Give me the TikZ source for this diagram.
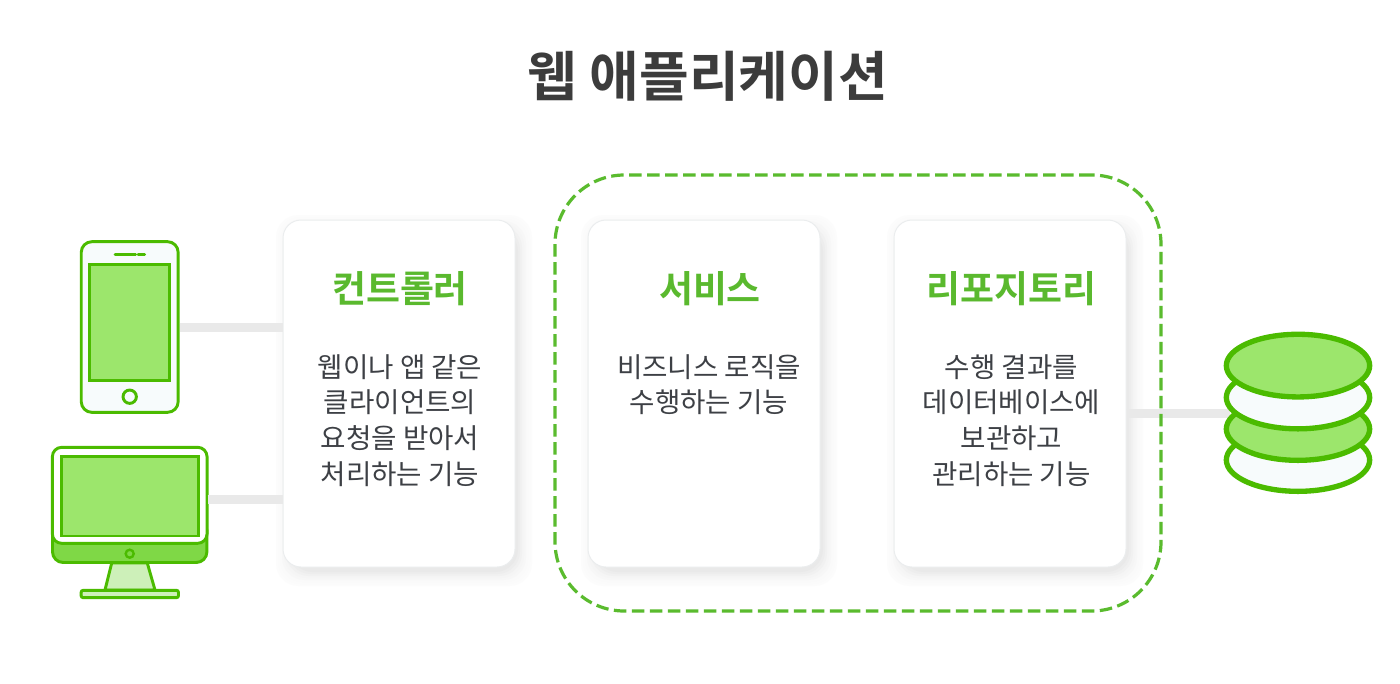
\documentclass[tikz,border=0pt]{standalone}
\usepackage{fontspec}
\setmainfont{Noto Sans CJK KR}
\newfontfamily\krbold{Noto Sans CJK KR Bold}
\definecolor{gline}{HTML}{4BBB00}
\definecolor{gfill}{HTML}{9CE66C}
\definecolor{gchin}{HTML}{7FD846}
\definecolor{gstand}{HTML}{CDF0B9}
\definecolor{paper}{HTML}{F7FBFC}
\definecolor{headc}{HTML}{5AB92E}
\definecolor{dashc}{HTML}{5ABB2E}
\definecolor{titlec}{HTML}{3C3C3C}
\definecolor{bodyc}{HTML}{3D4045}
\definecolor{linkc}{HTML}{E9E9E9}
\definecolor{cardedge}{HTML}{EBEDEE}
\usetikzlibrary{shapes.geometric}
\tikzset{
  x=0.75pt,y=-0.75pt,
  titletext/.style={font=\krbold\fontsize{40.5pt}{48pt}\selectfont,text=titlec,inner sep=0pt},
  headtext/.style={font=\krbold\fontsize{27.7pt}{32pt}\selectfont,text=headc,inner sep=0pt},
  bodytext/.style={font=\fontsize{20.7pt}{26.85pt}\selectfont,text=bodyc,inner sep=0pt,align=center,anchor=north},
  card/.style={draw=cardedge,line width=0.75pt,fill=white,rounded corners=13.5pt,minimum width=174pt,minimum height=260.25pt,inner sep=0pt},
  link/.style={draw=linkc,line width=6.75pt},
  icon/.style={draw=gline,line width=2.2pt,inner sep=0pt},
  dbdisc/.style={ellipse,draw=gline,line width=4pt,minimum width=107.5pt,minimum height=47pt,inner sep=0pt},
}
\begin{document}
\begin{tikzpicture}
\useasboundingbox (0,0) rectangle (1400,683);
\fill[white] (0,0) rectangle (1400,683);

\node[titletext] (title) at (708,76.5) {웹 애플리케이션};

% anchors for the grey connectors
\coordinate (deskrow) at (0,499);
\coordinate (dbrow) at (0,413.5);

% soft card shadows, built from graded solid layers
\foreach \cx in {283,588,894}{
  \foreach \s/\g in {12/1,10/1.5,8/2,6/3,4/4,2/5.5,0/7,-2/8.5}{
    \fill[black!\g!white,rounded corners=17pt] (\cx-\s+5,220-\s+7) rectangle (\cx+232+\s+5,567+\s+7);
  }
}

% phone
\node[icon,fill=paper,rounded corners=8pt,minimum width=72.7pt,minimum height=128pt] (phone) at (129.7,327) {};
\node[icon,fill=gfill,minimum width=59.7pt,minimum height=86.7pt] (phonescreen) at (129.5,322.5) {};
\node[icon,circle,fill=paper,minimum size=10pt] (phonebtn) at (129.7,396.7) {};
\coordinate (sp1) at (115,254.3);
\coordinate (sp2) at (135.7,254.3);
\coordinate (sp3) at (138,254.3);
\coordinate (sp4) at (144.7,254.3);
\draw[gline,line width=2pt,line cap=round] (sp1) -- (sp2) (sp3) -- (sp4);

% desktop
\path[fill=gchin,draw=gline,line width=2.2pt,rounded corners=8pt]
  (52.5,520) -- (52.5,562.5) -- (206.9,562.5) -- (206.9,520) -- cycle;
\node[icon,fill=white,rounded corners=7pt,minimum width=116pt,minimum height=72pt] (deskframe) at (129.7,495.3) {};
\node[icon,fill=gfill,minimum width=103pt,minimum height=59.7pt] (deskscreen) at (129.7,496.2) {};
\node[icon,circle,fill=gchin,line width=1.8pt,minimum size=6pt] (deskdot) at (129.7,553.7) {};
\path[fill=gstand,draw=gline,line width=2.2pt,line join=round]
  (111.7,563) -- (105,590) -- (155,590) -- (147.3,563) -- cycle;
\node[icon,fill=gstand,rounded corners=1.5pt,minimum width=73pt,minimum height=5.5pt] (deskbase) at (129.8,594) {};
\coordinate (deskedge) at (207.7,499);

% cards
\node[card] (ctrl) at (399,393.5) {};
\node[card] (svc) at (704,393.5) {};
\node[card] (repo) at (1010,393.5) {};

% connectors
\draw[link] (phone.east) -- (ctrl.west |- phone.east);
\draw[link] (deskedge) -- (ctrl.west |- deskrow);
\coordinate (dbend) at (1230,413.5);
\draw[link] (repo.east |- dbrow) -- (dbend);

% dashed boundary
\node[draw=dashc,line width=2.4pt,dash pattern=on 9.4pt off 4.1pt,rounded corners=52pt,minimum width=454.5pt,minimum height=327pt,inner sep=0pt] (group) at (858,393) {};

% card texts
\node[headtext] (h1) at (400,289) {컨트롤러};
\node[headtext] (h2) at (710,289) {서비스};
\node[headtext] (h3) at (1011.5,289) {리포지토리};

\node[bodytext] (b1) at (400,354) {웹이나 앱 같은\\클라이언트의\\요청을 받아서\\처리하는 기능};
\node[bodytext] (b2) at (709,354) {비즈니스 로직을\\수행하는 기능};
\node[bodytext] (b3) at (1011.5,354) {수행 결과를\\데이터베이스에\\보관하고\\관리하는 기능};

% database
\node[dbdisc,fill=paper] (db4) at (1298,460) {};
\node[dbdisc,fill=gfill] (db3) at (1298,429) {};
\node[dbdisc,fill=paper] (db2) at (1298,397.5) {};
\node[dbdisc,fill=gfill] (db1) at (1298,365.6) {};
\end{tikzpicture}
\end{document}
